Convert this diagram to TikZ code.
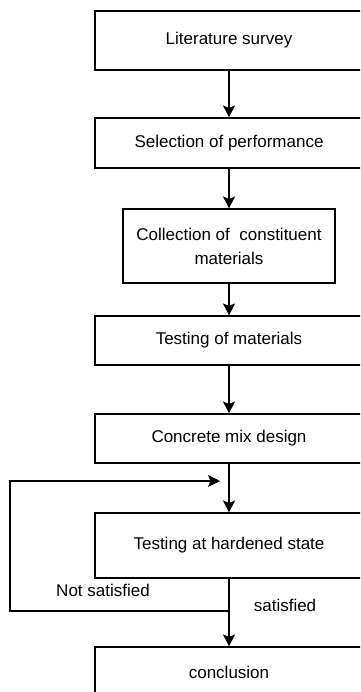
\documentclass[tikz,border=0pt]{standalone}
\usepackage{fontspec}
\setmainfont{Liberation Sans}
\usetikzlibrary{arrows.meta}

\tikzset{
    stage/.style={
      draw, line width=1.1pt, align=center, inner sep=0pt,
      minimum width=268pt, minimum height=#1,
      font=\fontsize{17}{24}\selectfont
    },
    flow/.style={
      line width=1.1pt, -{Stealth[length=12pt,width=12pt,inset=2.5pt]}
    },
    lbl/.style={font=\fontsize{17}{20}\selectfont}
  }

\begin{document}
\begin{tikzpicture}[x=1pt,y=-1pt]
    \useasboundingbox (0,0) rectangle (360,692);
    \clip (0,0) rectangle (360,692);

    \node[stage=59pt] (lit) at (229,40.5) {Literature survey};
    \node[stage=50pt] (sel) at (229,143) {Selection of performance};
    \node[stage=74pt, minimum width=212pt] (col) at (229,246)
      {Collection of\ \ constituent\\materials};
    \node[stage=49pt] (tst) at (229,340.5) {Testing of materials};
    \node[stage=49pt] (mix) at (229,438.5) {Concrete mix design};
    \node[stage=65pt] (hard) at (229,545.5) {Testing at hardened state};
    \node[stage=50pt] (conc) at (229,672) {conclusion};

    \foreach \a/\b in {lit/sel, sel/col, col/tst, tst/mix, mix/hard, hard/conc} {
      \draw[flow] (\a) -- (\b);
    }

    \coordinate (back) at (10,611);
    \coordinate (into) at (220,481);
    \draw[flow] (hard.south |- back) -- (back) |- (into);

    \node[lbl] (notok) at (103,590) {Not satisfied};
    \node[lbl] (ok) at (285,605) {satisfied};

  \end{tikzpicture}
\end{document}
